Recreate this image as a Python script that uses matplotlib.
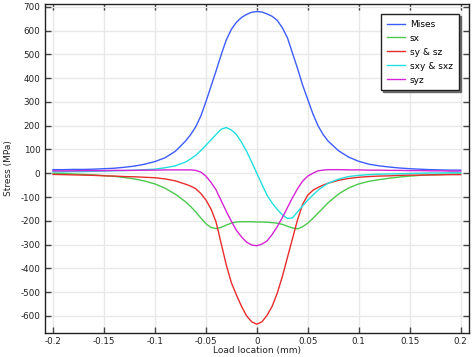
import matplotlib
matplotlib.use("Agg")
import matplotlib.pyplot as plt

plt.rcParams['font.family'] = ['DejaVu Sans']
plt.rcParams['axes.unicode_minus'] = False

load_location = ([-0.2, -0.19, -0.18, -0.17, -0.16, -0.15, -0.14, -0.13, -0.12, -0.11, -0.1, -0.09, -0.08, -0.07]
                 + [-0.065, -0.06, -0.055, -0.05, -0.045, -0.04, -0.035, -0.03, -0.025, -0.02, -0.015, -0.01, -0.005,
                    0.0,
                    0.005, 0.01, 0.015, 0.02, 0.025, 0.03, 0.035, 0.04, 0.045, 0.05, 0.055, 0.06, 0.065]
                 + [0.07, 0.08, 0.09, 0.1, 0.11, 0.12, 0.13, 0.14, 0.15, 0.16, 0.17, 0.18, 0.19, 0.2])

mises = ([15, 15, 16, 16, 17, 19, 21, 25, 30, 38, 49, 65, 92, 135]
         + [162, 195, 240, 300, 365, 430, 498, 560, 605, 635, 655, 668, 677,
            680,
            678, 670, 660, 643, 612, 570, 505, 440, 370, 310, 250, 200, 163]
         + [135, 95, 68, 50, 38, 31, 26, 22, 19, 17, 15, 14, 13, 13])
sx = ([0, -1, -3, -5, -7, -10, -13, -18, -24, -33, -45, -63, -88, -120]
      + [-140, -162, -188, -212, -228, -233, -228, -218, -210, -205, -204, -204, -204,
         -205,
         -205, -206, -208, -210, -215, -223, -230, -234, -225, -210, -190, -168, -146]
      + [-124, -88, -62, -45, -34, -27, -21, -16, -12, -9, -7, -5, -4, -3])
sy_sz = ([-5, -6, -7, -8, -9, -11, -12, -14, -15, -17, -19, -24, -32, -46]
         + [-54, -65, -85, -112, -150, -205, -295, -385, -460, -512, -560, -600, -625,
            -635,
            -625, -598, -560, -505, -435, -355, -275, -195, -130, -92, -72, -60, -50]
         + [-42, -30, -22, -17, -14, -12, -11, -9, -8, -8, -7, -7, -6, -6])
sxy_sxz = ([6, 6, 7, 7, 8, 9, 10, 11, 13, 15, 17, 23, 31, 47]
           + [60, 75, 95, 117, 140, 163, 185, 192, 182, 163, 130, 92, 47,
              0,
              -47, -92, -125, -152, -175, -190, -188, -162, -137, -113, -92, -72, -56]
           + [-42, -25, -14, -9, -6, -4, -3, -2, -1, 0, 1, 1, 2, 2])
syz = ([10, 10, 10, 11, 11, 11, 12, 12, 12, 13, 13, 14, 14, 14]
       + [14, 12, 5, -12, -38, -70, -115, -160, -202, -240, -268, -290, -302,
          -305,
          -298, -285, -258, -225, -187, -145, -103, -65, -33, -12, 0, 10, 13]
       + [15, 15, 14, 14, 13, 13, 12, 12, 11, 11, 10, 10, 9, 9])

series_labels = ["Mises", "sx", "sy & sz", "sxy & sxz", "syz"]
series_values = [mises, sx, sy_sz, sxy_sxz, syz]
colors = ["#3d5cff", "#4cc84c", "#e82c2c", "#22dede", "#d424d4"]

x_ticks = [-0.2, -0.15, -0.1, -0.05, 0, 0.05, 0.1, 0.15, 0.2]
x_tick_labels = ["-0.2", "-0.15", "-0.1", "-0.05", "0", "0.05", "0.1", "0.15", "0.2"]
y_ticks = [-600, -500, -400, -300, -200, -100, 0, 100, 200, 300, 400, 500, 600, 700]

fig = plt.figure(figsize=(4.75, 3.57), dpi=100)
ax = fig.add_axes([0.0937, 0.0672, 0.8933, 0.9218])

for vals, lab, c in zip(series_values, series_labels, colors):
    ax.plot(load_location, vals, color=c, lw=1.0, label=lab)

ax.set_xlim(-0.2083, 0.208)
ax.set_ylim(-672, 712)
ax.set_xticks(x_ticks)
ax.set_xticklabels(x_tick_labels)
ax.set_yticks(y_ticks)
ax.grid(True, color="#e8e8e8", lw=1.0)
ax.set_axisbelow(True)
ax.tick_params(direction="in", top=True, right=True, length=4, width=1,
               color="#444444", labelsize=6.3, labelcolor="#222222", pad=3)
for s in ax.spines.values():
    s.set_color("#222222")
    s.set_linewidth(1.0)

ax.set_xlabel("Load location (mm)", fontsize=6.5, labelpad=0, color="#222222")
ax.set_ylabel("Stress (MPa)", fontsize=6.5, labelpad=5, color="#222222")

leg = ax.legend(loc="upper right", bbox_to_anchor=(0.976, 0.970), borderaxespad=0,
                fontsize=6.5, frameon=True, fancybox=False,
                shadow={"ox": 1.5, "oy": -1.5, "color": "#555555", "alpha": 0.8},
                edgecolor="#222222", handlelength=2.0, handletextpad=0.5,
                labelspacing=0.55, borderpad=0.65)
leg.get_frame().set_linewidth(1.0)

fig.savefig("out.png", dpi=100)
